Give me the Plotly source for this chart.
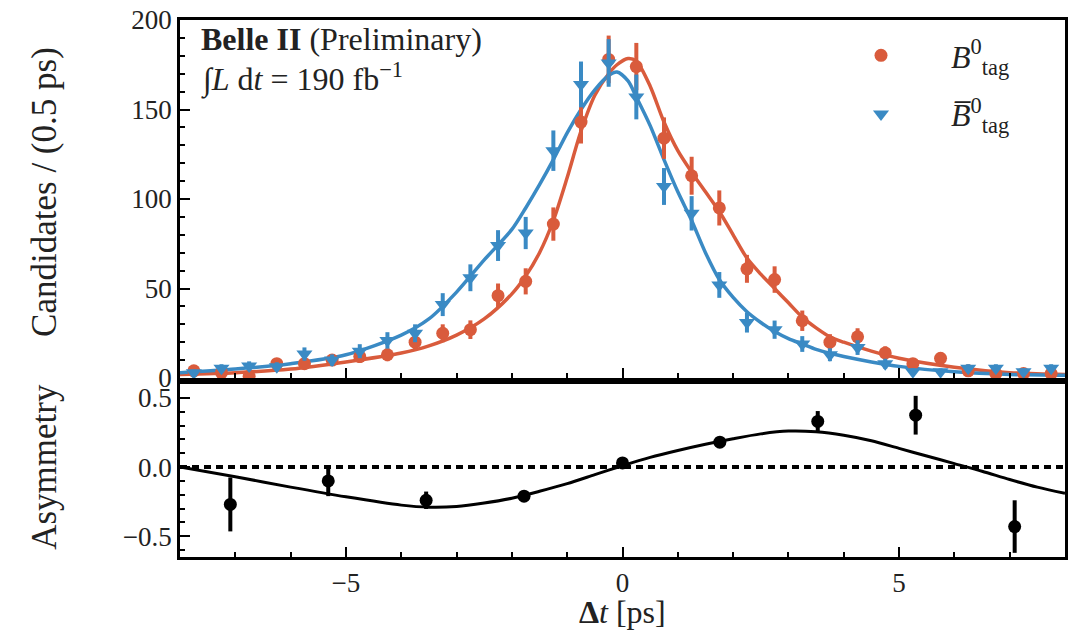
import plotly.graph_objects as go

# ---------------- data ----------------
bin_centers = [-7.75, -7.25, -6.75, -6.25, -5.75, -5.25, -4.75, -4.25,
               -3.75, -3.25, -2.75, -2.25, -1.75, -1.25, -0.75, -0.25,
               0.25, 0.75, 1.25, 1.75, 2.25, 2.75, 3.25, 3.75,
               4.25, 4.75, 5.25, 5.75, 6.25, 6.75, 7.25, 7.75]

b0_counts = [4, 3, 1, 8, 8, 10, 12, 13,
             20, 25, 27, 46, 54, 86, 143, 178,
             174, 134, 113, 95, 61, 55, 32, 20,
             23, 14, 8, 11, 4, 2.5, 2.5, 2.5]
b0_err = [2, 1.7, 1, 2.8, 2.8, 3.2, 3.5, 3.6,
          4.5, 5, 5.2, 6.8, 7.3, 9.3, 12, 13.3,
          13.2, 11.6, 10.6, 9.8, 7.8, 7.4, 5.7, 4.5,
          4.8, 3.7, 2.8, 3.3, 2, 1.6, 1.6, 1.6]

b0bar_counts = [3, 5.4, 6.7, 6.3, 13.4, 10, 15, 21,
                25, 41, 56, 74, 81, 127, 164, 176,
                157, 107, 92, 52, 31, 27, 19, 13,
                17, 8, 3.5, 3.5, 5.4, 5.4, 3.5, 5.4]
b0bar_err = [1.7, 2.3, 2.6, 2.5, 3.7, 3.2, 3.9, 4.6,
             5, 6.4, 7.5, 8.6, 9, 11.3, 12.8, 13.3,
             12.5, 10.3, 9.6, 7.2, 5.6, 5.1, 4.4, 3.6,
             4.1, 2.8, 1.9, 1.9, 2.3, 2.3, 1.9, 2.3]

# fit curves
fit_t = [-8, -7, -6, -5, -4, -3.5, -3, -2.5, -2, -1.75, -1.5, -1.25, -1, -0.75,
         -0.5, -0.25, -0.1, 0.1, 0.25, 0.5, 0.75, 1, 1.25, 1.5, 1.75, 2, 2.25,
         2.5, 2.75, 3, 3.25, 3.5, 3.75, 4, 4.5, 5, 6, 7, 8]
b0_fit = [2, 3, 5, 9, 14, 18, 24, 33, 47, 57, 70, 88, 112, 138,
          158, 170, 175, 178.5, 177, 163, 143, 127, 115, 104, 93, 80, 67,
          58, 50, 42, 34, 28, 23, 20, 15, 11, 6, 3, 2]
b0bar_fit = [3, 5, 8, 13, 24, 33, 48, 66, 83, 95, 108, 122, 137, 150,
             161, 169, 171, 166, 157, 141, 122, 104, 88, 70, 55, 45, 37,
             31, 26, 22, 19, 16, 13.8, 12, 9, 6.5, 3.5, 2, 1.5]

asym_t = [-7.09, -5.32, -3.55, -1.78, 0.0, 1.76, 3.53, 5.30, 7.09]
asym_val = [-0.27, -0.10, -0.24, -0.21, 0.03, 0.18, 0.33, 0.375, -0.43]
asym_err = [0.195, 0.11, 0.063, 0.03, 0.02, 0.03, 0.075, 0.14, 0.19]

asym_fit_t = [-8, -7, -6, -5, -4, -3.5, -3, -2.5, -2, -1.5, -1, -0.5, 0, 0.5,
              1, 1.5, 2, 2.5, 3, 3.5, 4, 4.5, 5, 5.5, 6, 6.5, 7, 7.5, 8]
asym_fit = [0.0, -0.07, -0.145, -0.215, -0.275, -0.29, -0.285, -0.26, -0.225,
            -0.175, -0.12, -0.055, 0.01, 0.07, 0.12, 0.165, 0.205, 0.24, 0.26,
            0.255, 0.23, 0.19, 0.135, 0.08, 0.025, -0.03, -0.09, -0.145, -0.19]

zero_line_t = [-8, 8]
zero_line_v = [0, 0]

RED = "#D95B3C"
BLUE = "#3A8AC4"
FONT = "Liberation Serif, Times New Roman, serif"
TXT = "#222"

fig = go.Figure()

# top panel: fit curves
fig.add_trace(go.Scatter(x=fit_t, y=b0_fit, mode="lines", line=dict(color=RED, width=3.5, shape="spline", smoothing=0.8),
                         showlegend=False, xaxis="x", yaxis="y", hoverinfo="skip"))
fig.add_trace(go.Scatter(x=fit_t, y=b0bar_fit, mode="lines", line=dict(color=BLUE, width=3.5, shape="spline", smoothing=0.8),
                         showlegend=False, xaxis="x", yaxis="y", hoverinfo="skip"))

# top panel: data
fig.add_trace(go.Scatter(x=bin_centers, y=b0_counts, mode="markers",
                         marker=dict(symbol="circle", size=13, color=RED),
                         error_y=dict(type="data", array=b0_err, color=RED, thickness=4, width=0),
                         name="<i>B</i><sup>0</sup><sub>tag</sub>", legendgroup="a", cliponaxis=False,
                         xaxis="x", yaxis="y"))
fig.add_trace(go.Scatter(x=bin_centers, y=b0bar_counts, mode="markers",
                         marker=dict(symbol="triangle-down", size=14, color=BLUE),
                         error_y=dict(type="data", array=b0bar_err, color=BLUE, thickness=4, width=0),
                         name="<i>B\u0305</i><sup>0</sup><sub>tag</sub>", legendgroup="b", cliponaxis=False,
                         xaxis="x", yaxis="y"))

# bottom panel
fig.add_trace(go.Scatter(x=zero_line_t, y=zero_line_v, mode="lines",
                         line=dict(color="black", width=4, dash="7px,5px"),
                         showlegend=False, xaxis="x2", yaxis="y2", hoverinfo="skip"))
fig.add_trace(go.Scatter(x=asym_fit_t, y=asym_fit, mode="lines",
                         line=dict(color="black", width=3, shape="spline", smoothing=0.8),
                         showlegend=False, xaxis="x2", yaxis="y2", hoverinfo="skip"))
fig.add_trace(go.Scatter(x=asym_t, y=asym_val, mode="markers",
                         marker=dict(symbol="circle", size=13, color="black"),
                         error_y=dict(type="data", array=asym_err, color="black", thickness=4, width=0),
                         showlegend=False, cliponaxis=False, xaxis="x2", yaxis="y2"))

axis_common = dict(showline=True, linecolor="black", linewidth=2.5, mirror=True,
                   ticks="inside", tickcolor="black", tickwidth=1.5, ticklen=10,
                   showgrid=False, zeroline=False, automargin=False,
                   tickfont=dict(family=FONT, size=27, color=TXT))
minor_common = dict(ticks="inside", ticklen=5, tickcolor="black", tickwidth=1.5)

fig.update_layout(
    width=1077, height=631,
    margin=dict(l=180, r=12, t=20, b=74),
    plot_bgcolor="white", paper_bgcolor="white",
    font=dict(family=FONT, color=TXT),
    xaxis=dict(domain=[0, 1], range=[-8, 8], anchor="y", matches="x2", showticklabels=False,
               dtick=5, tick0=0, minor=dict(dtick=1, **minor_common), **axis_common),
    yaxis=dict(domain=[0.3333, 1], range=[0, 200], anchor="x", dtick=50,
               minor=dict(dtick=10, **minor_common), **axis_common),
    xaxis2=dict(domain=[0, 1], range=[-8, 8], anchor="y2", dtick=5, tick0=0,
                minor=dict(dtick=1, **minor_common), **axis_common),
    yaxis2=dict(domain=[0, 0.322], range=[-0.65, 0.6], anchor="x2", dtick=0.5, tick0=0,
                tickformat=".1f", minor=dict(dtick=0.1, **minor_common), **axis_common),
    legend=dict(x=0.713, y=0.985, xanchor="left", yanchor="top", bgcolor="rgba(0,0,0,0)",
                font=dict(family=FONT, size=32, color=TXT), itemwidth=130,
                tracegroupgap=14),
    showlegend=True,
)

fig.add_annotation(text="<b>Belle II</b> (Preliminary)", xref="paper", yref="paper",
                   x=0.022, y=0.965, xanchor="left", yanchor="middle", showarrow=False,
                   font=dict(family=FONT, size=32, color=TXT))
fig.add_annotation(text="\u222B<i>L</i> d<i>t</i> = 190 fb<sup>\u22121</sup>", xref="paper", yref="paper",
                   x=0.022, y=0.892, xanchor="left", yanchor="middle", showarrow=False,
                   font=dict(family=FONT, size=32, color=TXT))
fig.add_annotation(text="Candidates / (0.5 ps)", xref="paper", yref="paper",
                   x=-0.1525, y=0.68, xanchor="center", yanchor="middle", textangle=-90, showarrow=False,
                   font=dict(family=FONT, size=35, color=TXT))
fig.add_annotation(text="Asymmetry", xref="paper", yref="paper",
                   x=-0.1525, y=0.168, xanchor="center", yanchor="middle", textangle=-90, showarrow=False,
                   font=dict(family=FONT, size=35, color=TXT))
fig.add_annotation(text="<b>\u0394</b><i>t</i> [ps]", xref="paper", yref="paper",
                   x=0.5, y=-0.1385, xanchor="center", yanchor="bottom", showarrow=False, borderpad=0,
                   font=dict(family=FONT, size=32, color=TXT))

fig.write_html("out.html")
